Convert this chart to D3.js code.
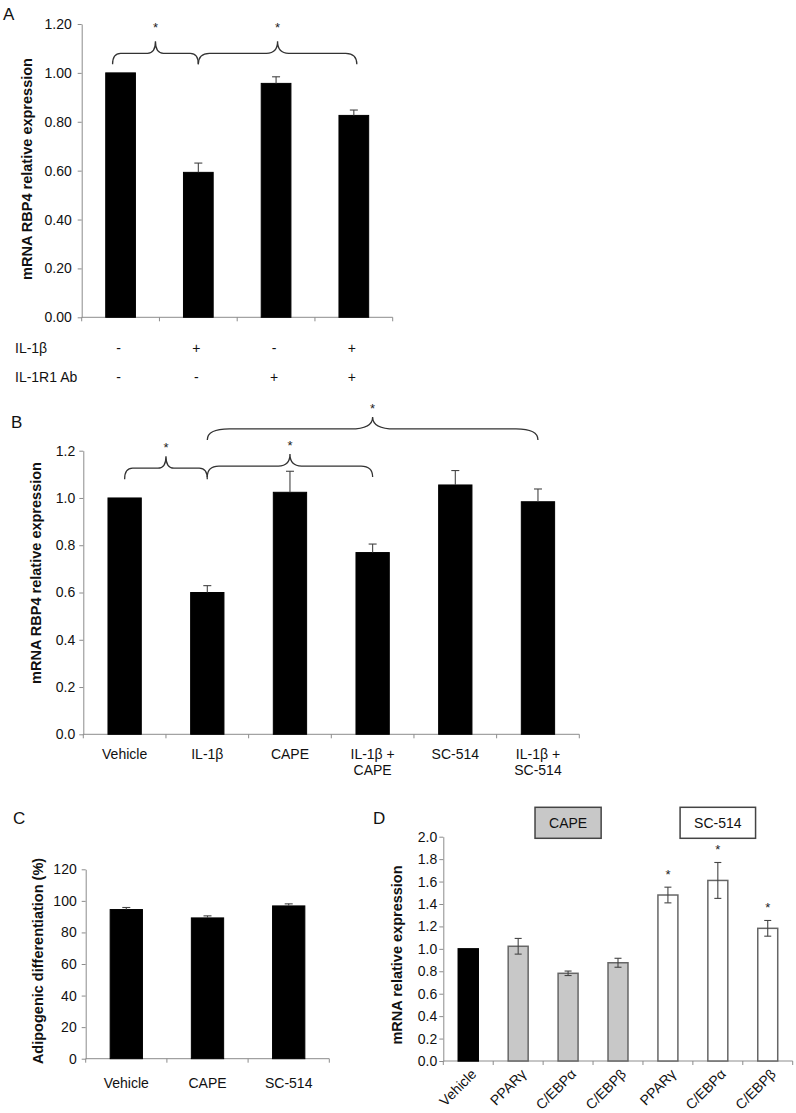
<!DOCTYPE html>
<html><head><meta charset="utf-8">
<script src="https://cdn.jsdelivr.net/npm/d3@7"></script>
<style>
body{margin:0;background:#fff}
svg text{font-family:Arial,"Liberation Sans",sans-serif}
</style>
</head><body>
<svg id="c" width="796" height="1113"></svg>
<script>
// ---------- DATA ----------
// Panel A
const aCategories = ["c1", "c2", "c3", "c4"];
const aValues = [1.00, 0.593, 0.957, 0.826];
const aErrors = [0, 0.038, 0.027, 0.022];
const aTicks = [0, 0.2, 0.4, 0.6, 0.8, 1.0, 1.2];
const aRowLabels = ["IL-1β", "IL-1R1 Ab"];
const aRowIL1b = ["-", "+", "-", "+"];
const aRowAb = ["-", "-", "+", "+"];
const aBraces = [[0, 1], [1, 3]];
// Panel B
const bCategories = ["Vehicle", "IL-1β", "CAPE", "IL-1β +\nCAPE", "SC-514", "IL-1β +\nSC-514"];
const bValues = [1.00, 0.600, 1.024, 0.769, 1.055, 0.984];
const bErrors = [0, 0.029, 0.089, 0.036, 0.061, 0.054];
const bTicks = [0, 0.2, 0.4, 0.6, 0.8, 1.0, 1.2];
const bBraces = [[0, 1, 1.126], [1, 3, 1.135], [1, 5, 1.292]];
// Panel C
const cCategories = ["Vehicle", "CAPE", "SC-514"];
const cValues = [94.5, 89.2, 96.8];
const cErrors = [1.3, 1.3, 1.3];
const cTicks = [0, 20, 40, 60, 80, 100, 120];
// Panel D
const dCategories = ["Vehicle", "PPARγ", "C/EBPα", "C/EBPβ", "PPARγ", "C/EBPα", "C/EBPβ"];
const dGroups = ["Vehicle", "CAPE", "CAPE", "CAPE", "SC-514", "SC-514", "SC-514"];
const dValues = [1.00, 1.023, 0.782, 0.876, 1.480, 1.610, 1.183];
const dErrors = [0, 0.07, 0.02, 0.04, 0.07, 0.16, 0.07];
const dSignificant = [false, false, false, false, true, true, true];
const dTicks = [0, 0.2, 0.4, 0.6, 0.8, 1.0, 1.2, 1.4, 1.6, 1.8, 2.0];
const dLegend = ["CAPE", "SC-514"];

// ---------- DRAWING ----------
const svg = d3.select("#c");
const AXIS = "#8c8c8c";
const ERR = "#444";
const FS = 14;

function makePanel(o) {
  const n = o.cats.length;
  const x = d3.scaleBand().domain(d3.range(n)).range([o.x0, o.x1])
    .paddingInner(o.pad).paddingOuter(o.pad / 2);
  const y = d3.scaleLinear().domain(o.domain).range([o.yBot, o.yTop]);
  const g = svg.append("g");
  // y axis
  const ya = g.append("g").attr("transform", `translate(${o.x0},0)`)
    .call(d3.axisLeft(y).tickValues(o.ticks).tickFormat(o.fmt).tickSize(4).tickSizeOuter(0).tickPadding(o.tickPad || 4));
  ya.select(".domain").attr("stroke", AXIS);
  ya.selectAll(".tick line").attr("stroke", AXIS);
  ya.selectAll(".tick text").attr("font-size", FS).attr("fill", "#111")
    .attr("font-family", "Arial, 'Liberation Sans', sans-serif");
  // x axis baseline + boundary ticks
  g.append("line").attr("x1", o.x0).attr("x2", o.x1).attr("y1", o.yBot).attr("y2", o.yBot).attr("stroke", AXIS);
  g.selectAll(".xt").data(d3.range(n + 1)).join("line")
    .attr("x1", i => o.x0 + i * x.step()).attr("x2", i => o.x0 + i * x.step())
    .attr("y1", o.yBot).attr("y2", o.yBot + 4).attr("stroke", AXIS);
  // bars
  g.selectAll(".bar").data(o.vals).join("rect")
    .attr("x", (d, i) => x(i) + 0.5).attr("width", x.bandwidth() - 1)
    .attr("y", d => y(d)).attr("height", d => o.yBot - y(d))
    .attr("fill", (d, i) => o.fill(i)).attr("stroke", (d, i) => o.stroke(i))
    .attr("stroke-width", o.strokeW || 1);
  // error bars
  const cap = o.cap || 4;
  o.vals.forEach((v, i) => {
    const e = o.errs[i];
    if (!e) return;
    const cx = x(i) + x.bandwidth() / 2;
    const lo = o.twoSided ? y(v - e) : y(v);
    const hi = y(v + e);
    g.append("line").attr("x1", cx).attr("x2", cx).attr("y1", lo).attr("y2", hi).attr("stroke", ERR).attr("stroke-width", 1.1);
    g.append("line").attr("x1", cx - cap).attr("x2", cx + cap).attr("y1", hi).attr("y2", hi).attr("stroke", ERR).attr("stroke-width", 1.1);
    if (o.twoSided) g.append("line").attr("x1", cx - cap).attr("x2", cx + cap).attr("y1", lo).attr("y2", lo).attr("stroke", ERR).attr("stroke-width", 1.1);
  });
  // y title
  g.append("text").attr("transform", `translate(${o.titleX},${o.titleY}) rotate(-90)`)
    .attr("text-anchor", "middle").attr("dy", "0.35em").attr("font-weight", "bold")
    .attr("font-size", 14.5).attr("fill", "#111").text(o.title);
  // panel letter
  g.append("text").attr("x", o.letterX).attr("y", o.letterY).attr("font-size", 17).attr("fill", "#111").text(o.letter);
  return {x, y, g, cx: i => x(i) + x.bandwidth() / 2};
}

function brace(g, x1, x2, yl) {
  const w = x2 - x1;
  const r = Math.max(8, Math.min(22, w * 0.07));
  const d = 11, d2 = 12, xm = (x1 + x2) / 2;
  const p = `M${x1},${yl + d} Q${x1},${yl} ${x1 + r},${yl} L${xm - r},${yl} Q${xm},${yl} ${xm},${yl - d2} Q${xm},${yl} ${xm + r},${yl} L${x2 - r},${yl} Q${x2},${yl} ${x2},${yl + d}`;
  g.append("path").attr("d", p).attr("fill", "none").attr("stroke", "#333").attr("stroke-width", 1.3);
  return {xm, top: yl - d2};
}
function star(g, x, cy) {
  g.append("text").attr("x", x).attr("y", cy + 7.5).attr("text-anchor", "middle")
    .attr("font-size", 13).attr("fill", "#222").text("*");
}

// ----- Panel A -----
const A = makePanel({
  cats: aCategories, vals: aValues, errs: aErrors, domain: [0, 1.2], ticks: aTicks,
  fmt: d3.format(".2f"), x0: 81.7, x1: 392.7, yTop: 24, yBot: 317.3, pad: 0.605, tickPad: 6,
  fill: () => "#000", stroke: () => "#000", cap: 4,
  title: "mRNA RBP4 relative expression", titleX: 27, titleY: 169, letter: "A", letterX: 3, letterY: 20
});
aBraces.forEach(([f, t], k) => {
  const x1 = k === 0 ? A.cx(f) - 8 : A.cx(f);
  const x2 = k === 0 ? A.cx(t) : A.cx(t) + 3;
  const b = brace(A.g, x1, x2, A.y(1.08));
  star(A.g, b.xm, A.y(1.2));
});
const rows = [aRowIL1b, aRowAb];
rows.forEach((row, r) => {
  const yy = 353 + r * 28.5;
  A.g.append("text").attr("x", 15).attr("y", yy).attr("font-size", FS).attr("fill", "#111").text(aRowLabels[r]);
  A.g.selectAll(null).data(row).join("text")
    .attr("x", (d, i) => A.cx(i) - 2).attr("y", yy).attr("text-anchor", "middle")
    .attr("font-size", FS).attr("fill", "#111").text(d => d);
});

// ----- Panel B -----
const B = makePanel({
  cats: bCategories, vals: bValues, errs: bErrors, domain: [0, 1.2], ticks: bTicks,
  fmt: d3.format(".1f"), x0: 83.3, x1: 579.3, yTop: 450.7, yBot: 734.3, pad: 0.585, tickPad: 4,
  fill: () => "#000", stroke: () => "#000", cap: 4,
  title: "mRNA RBP4 relative expression", titleX: 35.5, titleY: 573, letter: "B", letterX: 11, letterY: 428
});
bBraces.forEach(([f, t, lvl]) => {
  const b = brace(B.g, B.cx(f), B.cx(t), B.y(lvl));
  star(B.g, b.xm, b.top - 11.5);
});
bCategories.forEach((c, i) => {
  const t = B.g.append("text").attr("x", B.cx(i)).attr("y", 759).attr("text-anchor", "middle")
    .attr("font-size", FS).attr("fill", "#111");
  c.split("\n").forEach((line, k) => t.append("tspan").attr("x", B.cx(i)).attr("dy", k ? 16 : 0).text(line));
});

// ----- Panel C -----
const C = makePanel({
  cats: cCategories, vals: cValues, errs: cErrors, domain: [0, 120], ticks: cTicks,
  fmt: d3.format("d"), x0: 85.7, x1: 329.3, yTop: 869.3, yBot: 1058.7, pad: 0.59, tickPad: 5,
  fill: () => "#000", stroke: () => "#000", cap: 4,
  title: "Adipogenic differentiation (%)", titleX: 37.5, titleY: 961, letter: "C", letterX: 13, letterY: 823.5
});
cCategories.forEach((c, i) => {
  C.g.append("text").attr("x", C.cx(i)).attr("y", 1088).attr("text-anchor", "middle")
    .attr("font-size", FS).attr("fill", "#111").text(c);
});

// ----- Panel D -----
const groupFill = {"Vehicle": "#000", "CAPE": "#c8c8c8", "SC-514": "#fff"};
const groupStroke = {"Vehicle": "#000", "CAPE": "#666", "SC-514": "#666"};
const D = makePanel({
  cats: dCategories, vals: dValues, errs: dErrors, domain: [0, 2], ticks: dTicks,
  fmt: d3.format(".1f"), x0: 443.3, x1: 792.7, yTop: 836.7, yBot: 1061, pad: 0.58, tickPad: 2,
  fill: i => groupFill[dGroups[i]], stroke: i => groupStroke[dGroups[i]], strokeW: 1.5,
  twoSided: true, cap: 3.5,
  title: "mRNA relative expression", titleX: 397, titleY: 955, letter: "D", letterX: 373, letterY: 823.5
});
dSignificant.forEach((s, i) => {
  if (s) star(D.g, D.cx(i), D.y(dValues[i] + dErrors[i]) - 16);
});
dCategories.forEach((c, i) => {
  const ax = D.cx(i) + 9, ay = 1075;
  D.g.append("text").attr("transform", `translate(${ax},${ay}) rotate(-45)`)
    .attr("text-anchor", "end").attr("font-size", FS).attr("fill", "#111").text(c);
});
// legend boxes over each treated group
dLegend.forEach(name => {
  const idx = dGroups.map((g, i) => g === name ? i : -1).filter(i => i >= 0);
  const mid = (D.cx(idx[0]) + D.cx(idx[idx.length - 1])) / 2;
  const lg = D.g.append("g");
  const box = lg.append("rect");
  const t = lg.append("text").attr("x", mid).attr("y", 828).attr("text-anchor", "middle")
    .attr("font-size", FS).attr("fill", "#111").text(name);
  const w = t.node().getComputedTextLength() + 28;
  box.attr("x", mid - w / 2).attr("y", 807.3).attr("width", w).attr("height", 31)
    .attr("fill", groupFill[name]).attr("stroke", "#444").attr("stroke-width", 1.5);
});
</script>
</body></html>
